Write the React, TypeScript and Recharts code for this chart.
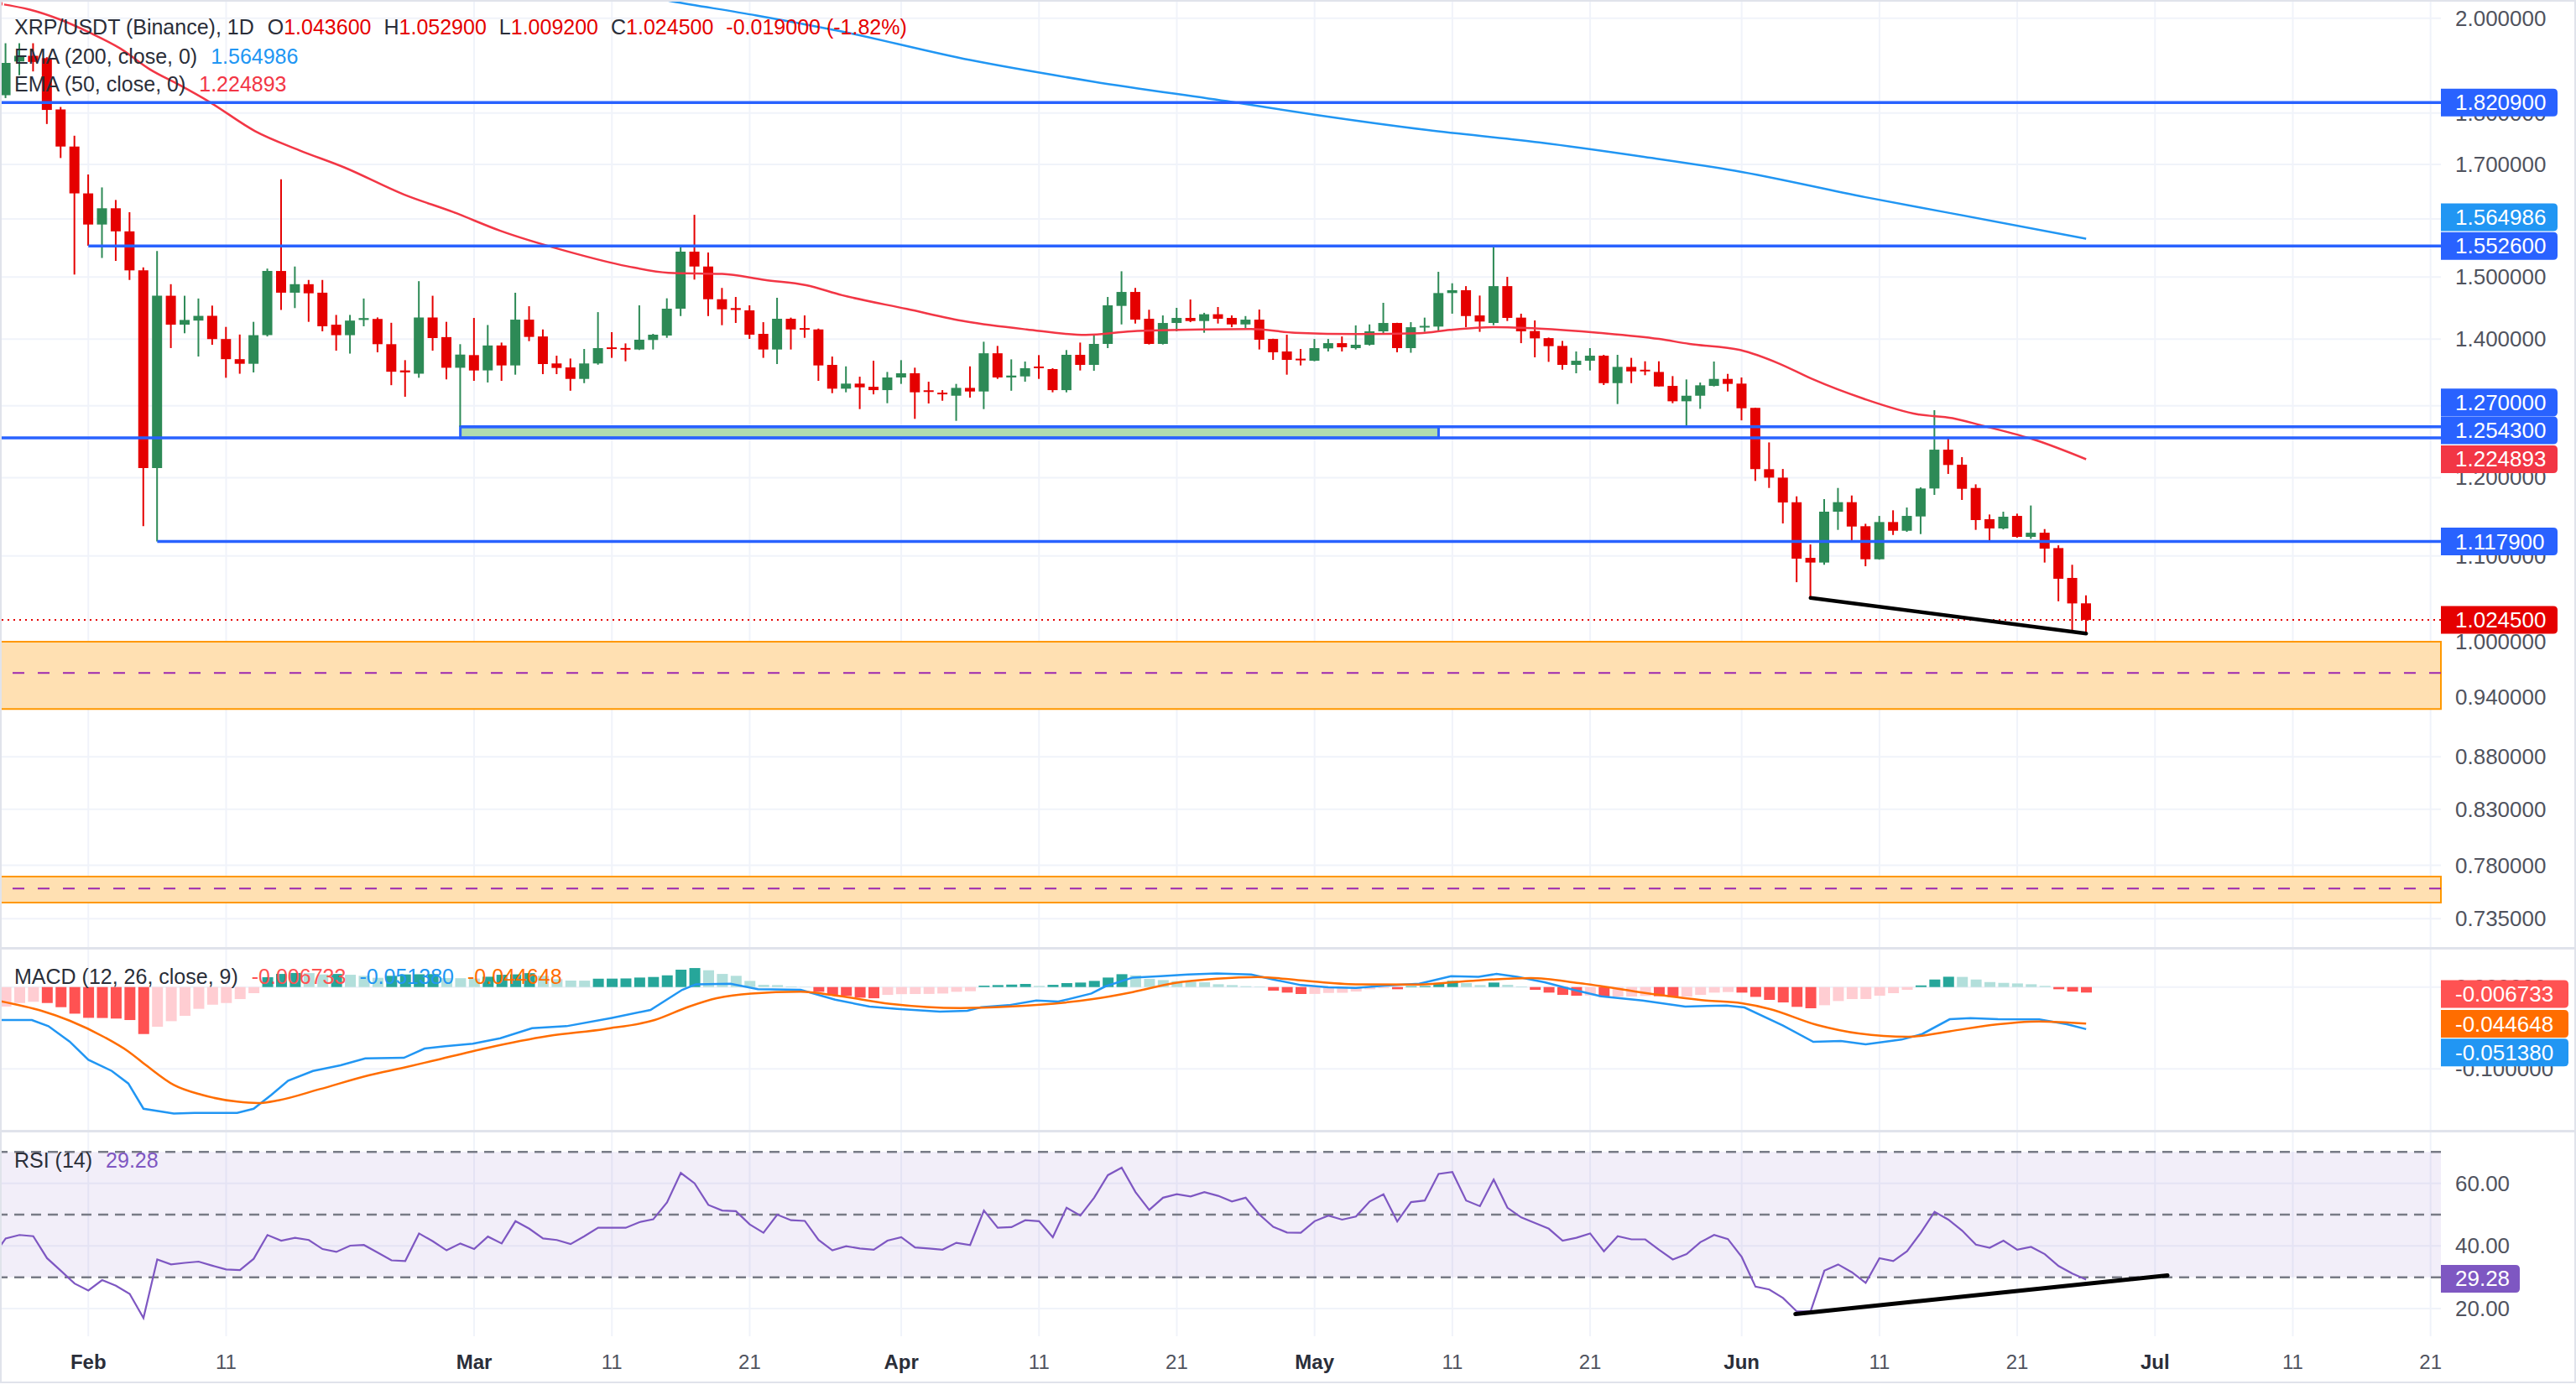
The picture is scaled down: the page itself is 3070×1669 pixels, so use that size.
import React from 'react';
import {
  ComposedChart,
  Bar,
  Line,
  XAxis,
  YAxis,
  ReferenceLine,
  ReferenceArea,
  CartesianGrid,
  Cell,
} from 'recharts';

const FONT = "'Liberation Sans', Arial, Helvetica, sans-serif";
const WIDTH = 3070;
const AXIS_W = 161;
const MAIN_H = 1130;
const MACD_H = 218;
const RSI_H = 300;
const X_DOMAIN: [number, number] = [-6.413, 170.75];

const UP = '#2d8a56';
const DOWN = '#e50000';
const LEVEL_BLUE = '#2962ff';
const GRID = '#f0f3fa';

// ---- daily candles, day 0 = 1 Feb ----
const FIRST_DAY = -6;
const OPEN = [
  1.836, 1.906, 1.918, 1.913, 1.807, 1.734, 1.646, 1.59, 1.619, 1.578,
  1.511, 1.213, 1.469, 1.4225, 1.429, 1.4365, 1.4, 1.369, 1.362, 1.406,
  1.51, 1.474, 1.488, 1.474, 1.4225, 1.406, 1.43, 1.4316, 1.392, 1.352,
  1.347, 1.434, 1.403, 1.356, 1.3752, 1.352, 1.39, 1.3595, 1.4305, 1.404,
  1.3625, 1.3565, 1.3393, 1.3625, 1.3865, 1.3855, 1.3838, 1.3985, 1.4054, 1.448,
  1.5428, 1.5175, 1.4633, 1.449, 1.4453, 1.4081, 1.3838, 1.4319, 1.4165, 1.415,
  1.3603, 1.3248, 1.3323, 1.3276, 1.3227, 1.3414, 1.3477, 1.322, 1.3185, 1.3145,
  1.326, 1.3207, 1.378, 1.3414, 1.343, 1.357, 1.354, 1.3227, 1.3756, 1.3603,
  1.3924, 1.4525, 1.4752, 1.4319, 1.3924, 1.4252, 1.4332, 1.4283, 1.4391, 1.4332,
  1.4229, 1.4305, 1.4001, 1.3808, 1.3692, 1.3666, 1.3855, 1.3936, 1.3859, 1.3911,
  1.412, 1.4252, 1.3859, 1.418, 1.4195, 1.4734, 1.478, 1.4372, 1.4252, 1.4848,
  1.4337, 1.4125, 1.4014, 1.3893, 1.3603, 1.3666, 1.3743, 1.333, 1.3573, 1.3525,
  1.3497, 1.3289, 1.3064, 1.3145, 1.3289, 1.3393, 1.3323, 1.2967, 1.2114, 1.2001,
  1.1678, 1.0977, 1.092, 1.1555, 1.1678, 1.137, 1.096, 1.1423, 1.1313, 1.1494,
  1.1857, 1.238, 1.2175, 1.1864, 1.1459, 1.1342, 1.1501, 1.1236, 1.1288, 1.1097,
  1.0735, 1.0436,
];
const HIGH = [
  1.945, 1.945, 1.945, 1.915, 1.812, 1.755, 1.681, 1.657, 1.634, 1.612,
  1.516, 1.544, 1.488, 1.469, 1.4645, 1.453, 1.419, 1.407, 1.427, 1.514,
  1.672, 1.5175, 1.495, 1.495, 1.438, 1.438, 1.4645, 1.434, 1.4255, 1.3675,
  1.493, 1.469, 1.427, 1.392, 1.4332, 1.422, 1.3945, 1.4739, 1.452, 1.415,
  1.3743, 1.37, 1.3846, 1.4425, 1.4107, 1.3932, 1.4534, 1.4081, 1.4648, 1.5515,
  1.6073, 1.5413, 1.4818, 1.467, 1.4534, 1.4265, 1.4657, 1.4337, 1.4372, 1.4164,
  1.373, 1.3581, 1.3426, 1.3666, 1.3497, 1.3675, 1.3561, 1.3351, 1.3227, 1.3319,
  1.3581, 1.3958, 1.3893, 1.3687, 1.3654, 1.3752, 1.3553, 1.3829, 1.3945, 1.4076,
  1.467, 1.5095, 1.4818, 1.4463, 1.4372, 1.4494, 1.4629, 1.4414, 1.4507, 1.4372,
  1.4362, 1.4467, 1.4005, 1.4068, 1.3846, 1.4001, 1.4001, 1.404, 1.4214, 1.4229,
  1.4575, 1.4255, 1.4265, 1.4337, 1.5086, 1.4895, 1.4848, 1.4693, 1.55, 1.5002,
  1.44, 1.4292, 1.4023, 1.397, 1.3808, 1.3859, 1.3756, 1.3756, 1.371, 1.3658,
  1.3658, 1.3435, 1.3385, 1.3339, 1.3654, 1.3468, 1.3414, 1.297, 1.248, 1.2117,
  1.1754, 1.1142, 1.1718, 1.1864, 1.1765, 1.1401, 1.1501, 1.1573, 1.1609, 1.1872,
  1.2935, 1.2555, 1.2278, 1.1912, 1.1519, 1.1555, 1.153, 1.1635, 1.1334, 1.1131,
  1.0893, 1.0529,
];
const LOW = [
  1.83, 1.877, 1.885, 1.778, 1.712, 1.504, 1.553, 1.532, 1.527, 1.495,
  1.137, 1.118, 1.386, 1.409, 1.373, 1.391, 1.341, 1.347, 1.349, 1.404,
  1.446, 1.449, 1.427, 1.412, 1.382, 1.3775, 1.42, 1.3795, 1.33, 1.313,
  1.341, 1.382, 1.3386, 1.27, 1.3364, 1.334, 1.3364, 1.3456, 1.3967, 1.3464,
  1.3464, 1.3218, 1.333, 1.3606, 1.371, 1.3658, 1.383, 1.3838, 1.4019, 1.4362,
  1.4956, 1.4362, 1.4217, 1.4252, 1.4001, 1.371, 1.3616, 1.3838, 1.4019, 1.3364,
  1.3182, 1.3195, 1.2951, 1.3165, 1.3036, 1.3319, 1.2811, 1.3032, 1.3072, 1.2783,
  1.3117, 1.2951, 1.3393, 1.3218, 1.3351, 1.3393, 1.3195, 1.3195, 1.3519, 1.3515,
  1.3859, 1.4229, 1.4243, 1.3915, 1.3915, 1.412, 1.4265, 1.4098, 1.4243, 1.4185,
  1.4172, 1.3838, 1.3679, 1.3456, 1.3595, 1.3658, 1.3808, 1.3808, 1.3838, 1.3898,
  1.4068, 1.3795, 1.3788, 1.4112, 1.412, 1.44, 1.4185, 1.4112, 1.4217, 1.4283,
  1.3936, 1.3718, 1.3649, 1.3531, 1.3477, 1.3519, 1.3302, 1.3024, 1.333, 1.3448,
  1.3281, 1.3036, 1.2685, 1.2955, 1.3281, 1.3207, 1.279, 1.1957, 1.1864, 1.1405,
  1.0684, 1.05, 1.0893, 1.1324, 1.1184, 1.0875, 1.0955, 1.126, 1.1299, 1.1271,
  1.1773, 1.205, 1.1707, 1.1324, 1.1184, 1.133, 1.1226, 1.1212, 1.092, 1.046,
  1.0125, 1.0092,
];
const CLOSE = [
  1.903, 1.918, 1.905, 1.806, 1.734, 1.646, 1.59, 1.619, 1.578, 1.511,
  1.213, 1.469, 1.4225, 1.43, 1.4365, 1.4, 1.369, 1.362, 1.406, 1.51,
  1.474, 1.488, 1.473, 1.42, 1.406, 1.429, 1.433, 1.392, 1.35, 1.349,
  1.434, 1.4015, 1.356, 1.376, 1.3519, 1.39, 1.3595, 1.4305, 1.4033, 1.3616,
  1.3557, 1.3393, 1.3625, 1.3859, 1.3845, 1.3835, 1.3989, 1.4068, 1.448, 1.5428,
  1.5175, 1.4633, 1.447, 1.446, 1.4068, 1.3838, 1.4319, 1.415, 1.4145, 1.3595,
  1.3248, 1.3323, 1.3268, 1.3227, 1.3414, 1.3477, 1.3195, 1.32, 1.3165, 1.326,
  1.3207, 1.378, 1.3414, 1.3443, 1.3553, 1.3553, 1.3227, 1.3756, 1.3603, 1.3924,
  1.4534, 1.4752, 1.4305, 1.3924, 1.4252, 1.4332, 1.4283, 1.4391, 1.4319, 1.4229,
  1.4305, 1.3989, 1.3795, 1.3679, 1.3672, 1.3859, 1.3936, 1.3872, 1.3911, 1.412,
  1.4252, 1.3859, 1.4185, 1.4198, 1.4734, 1.478, 1.4362, 1.4275, 1.4848, 1.4332,
  1.412, 1.401, 1.3889, 1.3603, 1.3666, 1.3743, 1.333, 1.3573, 1.3505, 1.3505,
  1.3281, 1.3064, 1.3145, 1.3298, 1.3393, 1.3319, 1.2963, 1.2114, 1.2001, 1.1674,
  1.0967, 1.092, 1.1555, 1.1678, 1.1366, 1.096, 1.1423, 1.1313, 1.1501, 1.1857,
  1.238, 1.2171, 1.1853, 1.1448, 1.1342, 1.1491, 1.1236, 1.1288, 1.109, 1.0725,
  1.0435, 1.0245,
];

// ---- moving averages (sampled along the curve) ----
const EMA200_DAYS = [36, 42.4, 48.5, 54.6, 64, 72.9, 83, 89.1, 97.2, 105.3, 112.7, 119.5, 129, 135, 145];
const EMA200_VALUES = [2.075, 2.0375, 2.006, 1.971, 1.909, 1.864, 1.822, 1.796, 1.766, 1.742, 1.715, 1.688, 1.639, 1.611, 1.564986];
const EMA50_DAYS = [
  -6.41, -4.24, -2.06, 0.1, 2.3, 4.46, 6.6, 8.8, 12.1, 15.3, 18.6, 22.9, 26.5, 29.9, 34.7, 39.1, 42.1, 46,
  49.1, 52.1, 54.7, 59.4, 63.7, 68.1, 72.4, 75.7, 81.1, 84.4, 87.6, 92.2, 96.6, 98.8, 102, 105.3, 109.6,
  114, 116.2, 119.9, 122.7, 125.1, 128.8, 132.8, 135.3, 137.3, 141.4, 145,
];
const EMA50_VALUES = [
  2.032, 2.019, 1.997, 1.968, 1.934, 1.8895, 1.857, 1.822, 1.764, 1.727, 1.694, 1.644, 1.612, 1.579, 1.5437, 1.518, 1.507, 1.505,
  1.495, 1.4864, 1.47, 1.4476, 1.4275, 1.415, 1.4064, 1.412, 1.415, 1.4155, 1.4098, 1.4077, 1.409, 1.4142, 1.4186, 1.4164, 1.4098,
  1.4001, 1.3924, 1.383, 1.3625, 1.3393, 1.3105, 1.2875, 1.2822, 1.2724, 1.2508, 1.224893,
];

// ---- drawings on the price pane ----
const LEVEL_PRICES = [1.8209, 1.5526, 1.27, 1.2543, 1.1179];
const LEVEL_START_DAYS = [X_DOMAIN[0], 0, 27, X_DOMAIN[0], 5];
const RANGE_BOX_DAYS = [27, 98];
const RANGE_BOX_PRICES = [1.2543, 1.27];
const ZONE_LOWS = [0.928, 0.7483];
const ZONE_HIGHS = [1.0, 0.7702];
const ZONE_MIDS = [0.966, 0.76];
const SUPPORT_DAYS = [125, 145];
const SUPPORT_PRICES = [1.05, 1.0092];

const DATE_TICKS = [0, 10, 28, 38, 48, 59, 69, 79, 89, 99, 109, 120, 130, 140, 150, 160, 170];
const DATE_LABELS = ['Feb', '11', 'Mar', '11', '21', 'Apr', '11', '21', 'May', '11', '21', 'Jun', '11', '21', 'Jul', '11', '21'];
const PRICE_TICKS = [2.0, 1.8, 1.7, 1.6, 1.5, 1.4, 1.3, 1.2, 1.1, 1.0, 0.94, 0.88, 0.83, 0.78, 0.735];
const PRICE_DOMAIN: [number, number] = [0.71156, 2.04075];

// ---- MACD (12, 26, close, 9) ----
const MACD_DAYS = [
  -6.41, -4.1, -2.9, -1.36, 0, 1.7, 2.9, 4, 6.2, 7.7, 10.8, 12, 13.3, 14.5, 16.3, 18.3, 20.1, 22.9, 24.4, 25.9,
  27.9, 29.9, 32.2, 34.7, 38, 40.8, 43.1, 44.1, 46.6, 48.6, 51.7, 54.2, 56.7, 58.7, 61.8, 63.8, 64.8, 66.8, 68.8,
  70.4, 72.8, 73.8, 75.8, 77.8, 79.8, 81.9, 84.4, 86, 88, 90, 92, 94.1, 96.6, 98.9, 100.9, 102.2, 103.7, 105.7,
  107.8, 109.8, 112.8, 115.9, 118.9, 120.2, 123, 125.2, 127.2, 129, 131.6, 133.1, 135.1, 136.6, 138.6, 141.6,
  143.6, 145,
];
const MACD_VALUES = [
  -0.0403, -0.0403, -0.0478, -0.0666, -0.0888, -0.1025, -0.1178, -0.1486, -0.1544, -0.1537, -0.1537, -0.1486,
  -0.1315, -0.1144, -0.1025, -0.0956, -0.0871, -0.0864, -0.0751, -0.0724, -0.0693, -0.0625, -0.0502, -0.0478,
  -0.0376, -0.028, -0.0034, 0.0034, 0.0041, -0.0027, -0.0034, -0.0154, -0.0239, -0.0266, -0.0301, -0.029,
  -0.0246, -0.0222, -0.0164, -0.0178, -0.0079, 0.0007, 0.0116, 0.0133, 0.0154, 0.0167, 0.0154, 0.0092, 0.0024,
  -0.0003, -0.001, 0.0017, 0.0041, 0.0133, 0.0126, 0.016, 0.0126, 0.0058, -0.0034, -0.0113, -0.0164, -0.0239,
  -0.0225, -0.0249, -0.0471, -0.0669, -0.0659, -0.07, -0.0642, -0.0574, -0.0393, -0.0379, -0.0393, -0.0396,
  -0.0454, -0.05138,
];
const SIGNAL_DAYS = [
  -6.41, -3.4, -1.36, 1.2, 2.9, 4.2, 6.2, 8.2, 10.8, 12.3, 13.8, 16.8, 20.4, 22.9, 24.9, 28.9, 33.4, 37.5, 41.1,
  43.6, 45.6, 48.1, 51.7, 54.2, 58.2, 63.3, 66.8, 72.8, 75.8, 78.8, 81.9, 84.9, 88, 92, 96.6, 100.2, 104.7, 108.2,
  113.3, 117.4, 120, 122, 125.5, 128.5, 132.1, 135.1, 138.1, 141.6, 145,
];
const SIGNAL_VALUES = [
  -0.0171, -0.029, -0.041, -0.0615, -0.0786, -0.0956, -0.1195, -0.1315, -0.14, -0.1417, -0.1383, -0.1247,
  -0.1076, -0.0984, -0.0905, -0.0745, -0.0598, -0.0512, -0.0403, -0.0239, -0.0137, -0.0079, -0.0058, -0.0102,
  -0.0205, -0.0256, -0.0239, -0.015, -0.0061, 0.0048, 0.0102, 0.0123, 0.0082, 0.0034, 0.0031, 0.0075, 0.0109,
  0.0048, -0.0079, -0.0164, -0.0198, -0.0266, -0.0464, -0.0567, -0.0608, -0.054, -0.0464, -0.042, -0.044648,
];
const HIST = [
  -0.0239, -0.0195, -0.018, -0.0195, -0.0246, -0.0325, -0.0376, -0.0378, -0.0385, -0.0403,
  -0.0574, -0.0485, -0.0417, -0.0352, -0.0266, -0.0215, -0.0195, -0.0147, -0.0075, 0.012,
  0.016, 0.0172, 0.017, 0.0154, 0.016, 0.015, 0.0137, 0.0113, 0.0137, 0.0154,
  0.0156, 0.0158, 0.011, 0.0108, 0.0104, 0.0126, 0.015, 0.0155, 0.017, 0.0137,
  0.0096, 0.0079, 0.0078, 0.0102, 0.0103, 0.0105, 0.0116, 0.0123, 0.0143, 0.0212,
  0.0232, 0.0205, 0.016, 0.0137, 0.0075, 0.0027, 0.0024, 0.0007, 0.0003, -0.0058,
  -0.0096, -0.0109, -0.013, -0.0137, -0.0096, -0.0087, -0.0085, -0.0084, -0.0079, -0.0058,
  -0.0051, 0.0017, 0.0024, 0.003, 0.0038, 0.0014, 0.0027, 0.0048, 0.0055, 0.0075,
  0.0116, 0.0157, 0.0143, 0.0099, 0.0085, 0.0072, 0.0065, 0.0058, 0.0034, 0.0024,
  0.001, 0.0005, -0.0044, -0.0068, -0.0085, -0.0084, -0.0072, -0.007, -0.0055, -0.0027,
  -0.0014, -0.0027, 0.001, 0.0012, 0.005, 0.0075, 0.0048, 0.0024, 0.0055, 0.0027,
  0.0007, -0.0034, -0.0068, -0.0096, -0.0106, -0.0102, -0.012, -0.0118, -0.0116, -0.0109,
  -0.0112, -0.012, -0.0118, -0.0096, -0.0068, -0.0061, -0.0068, -0.012, -0.0157, -0.0188,
  -0.0242, -0.0259, -0.0222, -0.0171, -0.0147, -0.0146, -0.0106, -0.0075, -0.0034, 0.002,
  0.0092, 0.0126, 0.0124, 0.0092, 0.0061, 0.0051, 0.0044, 0.0034, 0.0014, -0.0027,
  -0.0055, -0.006733,
];
const MACD_DOMAIN: [number, number] = [-0.17551, 0.04785];

// ---- RSI (14) ----
const RSI_FIRST_DAY = -7;
const RSI_VALUES = [
  36.3,
  42.4, 43.5, 43.1, 36.1, 32.1, 28.0, 25.8, 29.1, 27.3, 24.7,
  17.0, 35.7, 34.1, 34.6, 35.0, 33.7, 32.5, 32.3, 35.9, 43.5,
  41.7, 42.6, 41.9, 39.0, 38.1, 40.1, 40.3, 37.9, 35.4, 35.2,
  44.0, 41.5, 38.6, 40.8, 39.0, 43.0, 40.8, 47.9, 45.5, 42.4,
  41.9, 40.6, 43.1, 45.8, 45.8, 45.8, 47.6, 48.5, 53.9, 63.3,
  60.0, 53.1, 51.3, 51.1, 46.9, 44.2, 50.0, 48.2, 48.0, 41.9,
  38.6, 39.9, 39.2, 38.8, 41.7, 42.8, 39.5, 39.2, 38.8, 41.0,
  40.3, 51.3, 45.8, 46.0, 48.2, 47.9, 42.8, 52.2, 49.7, 55.4,
  62.6, 65.0, 57.2, 51.5, 55.4, 56.5, 55.8, 57.2, 56.0, 54.2,
  55.4, 50.0, 46.1, 44.3, 44.2, 47.9, 49.7, 48.4, 49.4, 54.2,
  56.5, 47.8, 54.0, 54.5, 63.0, 63.6, 54.5, 52.7, 61.2, 52.2,
  49.1, 47.3, 45.5, 41.7, 42.6, 44.0, 38.3, 43.1, 42.1, 42.1,
  38.8, 35.7, 37.4, 41.2, 43.5, 42.2, 36.5, 27.0, 26.1, 23.4,
  19.1, 19.1, 32.1, 34.1, 31.6, 28.2, 36.1, 35.2, 38.3, 44.2,
  50.9, 48.4, 44.9, 40.4, 39.4, 41.7, 38.8, 39.7, 37.4, 33.6,
  31.2, 29.28,
];
const RSI_TREND_DAYS = [123.9, 150.9];
const RSI_TREND_VALUES = [18.3, 30.6];
const RSI_DOMAIN: [number, number] = [11.18, 76.77];

// ---- derived rows ----
const last = <T,>(a: T[]) => a[a.length - 1];

const candleRows = OPEN.map((o, i) => {
  const c = CLOSE[i];
  return {
    day: FIRST_DAY + i,
    wick: [LOW[i], HIGH[i]],
    body: [Math.min(o, c), Math.max(o, c)],
    up: c >= o,
  };
});
const ema200Rows = EMA200_DAYS.map((d, i) => ({ day: d, value: EMA200_VALUES[i] }));
const ema50Rows = EMA50_DAYS.map((d, i) => ({ day: d, value: EMA50_VALUES[i] }));
const macdRows = MACD_DAYS.map((d, i) => ({ day: d, value: MACD_VALUES[i] }));
const signalRows = SIGNAL_DAYS.map((d, i) => ({ day: d, value: SIGNAL_VALUES[i] }));
const histRows = HIST.map((v, i) => ({ day: FIRST_DAY + i, value: v }));
const histColor = (i: number) => {
  const v = HIST[i];
  const prev = i > 0 ? HIST[i - 1] : -Infinity;
  if (v >= 0) return v >= prev ? '#26a69a' : '#b2dfdb';
  return v <= prev ? '#ff5252' : '#ffcdd2';
};
const rsiRows = RSI_VALUES.map((v, i) => ({ day: RSI_FIRST_DAY + i, value: v }));

type Tag = { value: number; color: string; shift?: number };

const MAIN_TAGS: Tag[] = [
  { value: LEVEL_PRICES[0], color: LEVEL_BLUE },
  { value: last(EMA200_VALUES), color: '#2196f3', shift: -25.7 },
  { value: LEVEL_PRICES[1], color: LEVEL_BLUE },
  { value: LEVEL_PRICES[2], color: LEVEL_BLUE, shift: -29 },
  { value: LEVEL_PRICES[3], color: LEVEL_BLUE, shift: -9 },
  { value: last(EMA50_VALUES), color: '#f23645' },
  { value: LEVEL_PRICES[4], color: LEVEL_BLUE },
  { value: last(CLOSE), color: DOWN },
];
const MACD_TAGS: Tag[] = [
  { value: last(HIST), color: '#ff5252', shift: 1.7 },
  { value: last(SIGNAL_VALUES), color: '#ff6d00', shift: 0.3 },
  { value: last(MACD_VALUES), color: '#2196f3', shift: 27.8 },
];
const RSI_TAGS: Tag[] = [{ value: last(RSI_VALUES), color: '#7e57c2', shift: -0.9 }];

function AxisTag(props: any) {
  const { x, y, payload, tags, digits, boxW } = props;
  const value = Number(payload.value);
  const label = value.toFixed(digits);
  const tag: Tag | undefined = tags.find((t: Tag) => t.value === value);
  if (!tag) {
    return (
      <text x={x + 17} y={y} dominantBaseline="central" fontSize={26} fill="#50535e" fontFamily={FONT}>
        {label}
      </text>
    );
  }
  const cy = y + (tag.shift ?? 0);
  const h = 33;
  const r = 5;
  const top = cy - h / 2;
  const bot = cy + h / 2;
  const right = x + boxW;
  return (
    <g>
      <path
        d={`M${x},${top}H${right - r}Q${right},${top} ${right},${top + r}V${bot - r}Q${right},${bot} ${right - r},${bot}H${x}Z`}
        fill={tag.color}
      />
      <text x={x + 17} y={cy} dominantBaseline="central" fontSize={26} fill="#ffffff" fontFamily={FONT}>
        {label}
      </text>
    </g>
  );
}

function DateTick(props: any) {
  const { x, y, payload } = props;
  const idx = DATE_TICKS.indexOf(Number(payload.value));
  const label = DATE_LABELS[idx] ?? '';
  const isMonth = /[A-Za-z]/.test(label);
  return (
    <text
      x={x}
      y={y + 30}
      textAnchor="middle"
      dominantBaseline="central"
      fontSize={24}
      fontWeight={isMonth ? 700 : 400}
      fill={isMonth ? '#2a2e39' : '#50535e'}
      fontFamily={FONT}
    >
      {label}
    </text>
  );
}

const MARGIN = { top: 0, right: 0, bottom: 0, left: 0 };

function PricePane() {
  const ids = { xAxisId: 'body', yAxisId: 'price' };
  const lineIds = { xAxisId: 'ema', yAxisId: 'price' };
  const tickValues = [...PRICE_TICKS, ...MAIN_TAGS.map((t) => t.value)];
  return (
    <ComposedChart width={WIDTH} height={MAIN_H} data={candleRows} margin={MARGIN}>
      <CartesianGrid
        {...ids}
        verticalValues={DATE_TICKS}
        horizontalValues={PRICE_TICKS}
        stroke={GRID}
        strokeWidth={2}
      />
      <XAxis xAxisId="body" type="number" dataKey="day" domain={X_DOMAIN} hide allowDataOverflow />
      <XAxis xAxisId="wick" type="number" dataKey="day" domain={X_DOMAIN} hide allowDataOverflow />
      <XAxis xAxisId="ema" type="number" dataKey="day" domain={X_DOMAIN} hide allowDataOverflow />
      <YAxis
        yAxisId="price"
        orientation="right"
        scale="log"
        domain={PRICE_DOMAIN}
        allowDataOverflow
        width={AXIS_W}
        ticks={tickValues}
        interval={0}
        axisLine={false}
        tickLine={false}
        tickSize={0}
        tickMargin={0}
        tick={(p: any) => <AxisTag {...p} tags={MAIN_TAGS} digits={6} boxW={139} />}
      />

      {ZONE_LOWS.map((lo, i) => (
        <ReferenceArea
          key={`zone-${i}`}
          {...ids}
          y1={lo}
          y2={ZONE_HIGHS[i]}
          fill="#ffe0b2"
          fillOpacity={1}
          stroke="#ff9800"
          strokeWidth={2}
        />
      ))}
      {ZONE_MIDS.map((m, i) => (
        <ReferenceLine key={`mid-${i}`} {...ids} y={m} stroke="#9c27b0" strokeWidth={2} strokeDasharray="14 16" />
      ))}
      <ReferenceArea
        {...ids}
        x1={RANGE_BOX_DAYS[0]}
        x2={RANGE_BOX_DAYS[1]}
        y1={RANGE_BOX_PRICES[0]}
        y2={RANGE_BOX_PRICES[1]}
        fill="#b0dcb0"
        fillOpacity={1}
        stroke={LEVEL_BLUE}
        strokeWidth={3}
      />

      <Bar xAxisId="wick" yAxisId="price" dataKey="wick" barSize={2} isAnimationActive={false}>
        {candleRows.map((r, i) => (
          <Cell key={`w-${i}`} fill={r.up ? UP : DOWN} />
        ))}
      </Bar>
      <Bar xAxisId="body" yAxisId="price" dataKey="body" barSize={12} minPointSize={2} isAnimationActive={false}>
        {candleRows.map((r, i) => (
          <Cell key={`b-${i}`} fill={r.up ? UP : DOWN} />
        ))}
      </Bar>

      <Line
        {...lineIds}
        data={ema200Rows}
        dataKey="value"
        type="monotone"
        stroke="#2196f3"
        strokeWidth={2.5}
        dot={false}
        isAnimationActive={false}
      />
      <Line
        {...lineIds}
        data={ema50Rows}
        dataKey="value"
        type="monotone"
        stroke="#f23645"
        strokeWidth={2.5}
        dot={false}
        isAnimationActive={false}
      />

      <ReferenceLine {...ids} y={last(CLOSE)} stroke={DOWN} strokeWidth={2} strokeDasharray="2 5" />
      {LEVEL_PRICES.map((p, i) => (
        <ReferenceLine
          key={`lvl-${i}`}
          {...ids}
          segment={[
            { x: LEVEL_START_DAYS[i], y: p },
            { x: X_DOMAIN[1], y: p },
          ]}
          stroke={LEVEL_BLUE}
          strokeWidth={3.5}
        />
      ))}
      <ReferenceLine
        {...ids}
        segment={[
          { x: SUPPORT_DAYS[0], y: SUPPORT_PRICES[0] },
          { x: SUPPORT_DAYS[1], y: SUPPORT_PRICES[1] },
        ]}
        stroke="#000000"
        strokeWidth={4.5}
        strokeLinecap="round"
      />
    </ComposedChart>
  );
}

function MacdPane() {
  const ids = { xAxisId: 'd', yAxisId: 'm' };
  const lineIds = { xAxisId: 'line', yAxisId: 'm' };
  const tickValues = [0, -0.1, ...MACD_TAGS.map((t) => t.value)];
  return (
    <ComposedChart width={WIDTH} height={MACD_H} data={histRows} margin={MARGIN}>
      <CartesianGrid {...ids} verticalValues={DATE_TICKS} horizontalValues={[0, -0.1]} stroke={GRID} strokeWidth={2} />
      <XAxis xAxisId="d" type="number" dataKey="day" domain={X_DOMAIN} hide allowDataOverflow />
      <XAxis xAxisId="line" type="number" dataKey="day" domain={X_DOMAIN} hide allowDataOverflow />
      <YAxis
        yAxisId="m"
        orientation="right"
        domain={MACD_DOMAIN}
        allowDataOverflow
        width={AXIS_W}
        ticks={tickValues}
        interval={0}
        axisLine={false}
        tickLine={false}
        tickSize={0}
        tickMargin={0}
        tick={(p: any) => <AxisTag {...p} tags={MACD_TAGS} digits={6} boxW={152} />}
      />
      <Bar {...ids} dataKey="value" barSize={13} isAnimationActive={false}>
        {histRows.map((r, i) => (
          <Cell key={`h-${i}`} fill={histColor(i)} />
        ))}
      </Bar>
      <Line
        {...lineIds}
        data={macdRows}
        dataKey="value"
        type="linear"
        stroke="#2196f3"
        strokeWidth={2.5}
        dot={false}
        isAnimationActive={false}
      />
      <Line
        {...lineIds}
        data={signalRows}
        dataKey="value"
        type="monotone"
        stroke="#ff6d00"
        strokeWidth={2.5}
        dot={false}
        isAnimationActive={false}
      />
    </ComposedChart>
  );
}

function RsiPane() {
  const ids = { xAxisId: 'd', yAxisId: 'r' };
  const tickValues = [60, 40, 20, ...RSI_TAGS.map((t) => t.value)];
  return (
    <ComposedChart width={WIDTH} height={RSI_H} data={rsiRows} margin={MARGIN}>
      <CartesianGrid {...ids} verticalValues={DATE_TICKS} horizontalValues={[60, 40, 20]} stroke={GRID} strokeWidth={2} />
      <XAxis
        xAxisId="d"
        type="number"
        dataKey="day"
        domain={X_DOMAIN}
        allowDataOverflow
        ticks={DATE_TICKS}
        interval={0}
        height={55}
        axisLine={false}
        tickLine={false}
        tickSize={0}
        tickMargin={0}
        tick={(p: any) => <DateTick {...p} />}
      />
      <YAxis
        yAxisId="r"
        orientation="right"
        domain={RSI_DOMAIN}
        allowDataOverflow
        width={AXIS_W}
        ticks={tickValues}
        interval={0}
        axisLine={false}
        tickLine={false}
        tickSize={0}
        tickMargin={0}
        tick={(p: any) => <AxisTag {...p} tags={RSI_TAGS} digits={2} boxW={94} />}
      />
      <ReferenceArea {...ids} y1={30} y2={70} fill="#7e57c2" fillOpacity={0.1} stroke="none" />
      {[70, 50, 30].map((v) => (
        <ReferenceLine key={`rsi-${v}`} {...ids} y={v} stroke="#787b86" strokeWidth={2.5} strokeDasharray="12 8" />
      ))}
      <Line
        {...ids}
        dataKey="value"
        type="linear"
        stroke="#7e57c2"
        strokeWidth={2.2}
        dot={false}
        isAnimationActive={false}
      />
      <ReferenceLine
        {...ids}
        segment={[
          { x: RSI_TREND_DAYS[0], y: RSI_TREND_VALUES[0] },
          { x: RSI_TREND_DAYS[1], y: RSI_TREND_VALUES[1] },
        ]}
        stroke="#000000"
        strokeWidth={5}
        strokeLinecap="round"
      />
    </ComposedChart>
  );
}

function Legends() {
  const n = CLOSE.length;
  const change = CLOSE[n - 1] - CLOSE[n - 2];
  const pct = (change / CLOSE[n - 2]) * 100;
  const txt = { fontFamily: FONT, fontSize: 25, dominantBaseline: 'central' as const };
  const dark = '#2a2e39';
  return (
    <g>
      <text x={17} y={32} {...txt} fill={dark}>
        <tspan>XRP/USDT (Binance), 1D</tspan>
        <tspan dx={16}>O</tspan>
        <tspan fill={DOWN}>{OPEN[n - 1].toFixed(6)}</tspan>
        <tspan dx={15}>H</tspan>
        <tspan fill={DOWN}>{HIGH[n - 1].toFixed(6)}</tspan>
        <tspan dx={15}>L</tspan>
        <tspan fill={DOWN}>{LOW[n - 1].toFixed(6)}</tspan>
        <tspan dx={15}>C</tspan>
        <tspan fill={DOWN}>{CLOSE[n - 1].toFixed(6)}</tspan>
        <tspan dx={15} fill={DOWN}>
          {`${change.toFixed(6)} (${pct.toFixed(2)}%)`}
        </tspan>
      </text>
      <text x={17} y={66.5} {...txt} fill={dark}>
        <tspan>EMA (200, close, 0)</tspan>
        <tspan dx={16} fill="#2196f3">
          {last(EMA200_VALUES).toFixed(6)}
        </tspan>
      </text>
      <text x={17} y={100} {...txt} fill={dark}>
        <tspan>EMA (50, close, 0)</tspan>
        <tspan dx={16} fill="#f23645">
          {last(EMA50_VALUES).toFixed(6)}
        </tspan>
      </text>
      <text x={17} y={1164} {...txt} fill={dark}>
        <tspan>MACD (12, 26, close, 9)</tspan>
        <tspan dx={16} fill="#ff5252">
          {last(HIST).toFixed(6)}
        </tspan>
        <tspan dx={16} fill="#2196f3">
          {last(MACD_VALUES).toFixed(6)}
        </tspan>
        <tspan dx={16} fill="#ff6d00">
          {last(SIGNAL_VALUES).toFixed(6)}
        </tspan>
      </text>
      <text x={17} y={1383} {...txt} fill={dark}>
        <tspan>RSI (14)</tspan>
        <tspan dx={16} fill="#7e57c2">
          {last(RSI_VALUES).toFixed(2)}
        </tspan>
      </text>
    </g>
  );
}

export default function App() {
  return (
    <div
      style={{
        position: 'absolute',
        left: 0,
        top: 0,
        width: WIDTH,
        height: 1669,
        background: '#ffffff',
        overflow: 'hidden',
        fontFamily: FONT,
      }}
    >
      <div style={{ position: 'absolute', left: 0, top: 0 }}>
        <PricePane />
      </div>
      <div style={{ position: 'absolute', left: 0, top: MAIN_H }}>
        <MacdPane />
      </div>
      <div style={{ position: 'absolute', left: 0, top: MAIN_H + MACD_H }}>
        <RsiPane />
      </div>
      <svg
        width={WIDTH}
        height={1669}
        style={{ position: 'absolute', left: 0, top: 0, pointerEvents: 'none' }}
      >
        <Legends />
        <rect x={0} y={0} width={WIDTH} height={2} fill="#e0e3eb" />
        <rect x={0} y={MAIN_H - 1} width={WIDTH} height={3} fill="#e0e3eb" />
        <rect x={0} y={MAIN_H + MACD_H - 1} width={WIDTH} height={3} fill="#e0e3eb" />
        <rect x={0} y={1647} width={WIDTH} height={2} fill="#e0e3eb" />
        <rect x={0} y={0} width={2} height={1649} fill="#e0e3eb" />
        <rect x={WIDTH - 2} y={0} width={2} height={1649} fill="#e0e3eb" />
      </svg>
    </div>
  );
}
